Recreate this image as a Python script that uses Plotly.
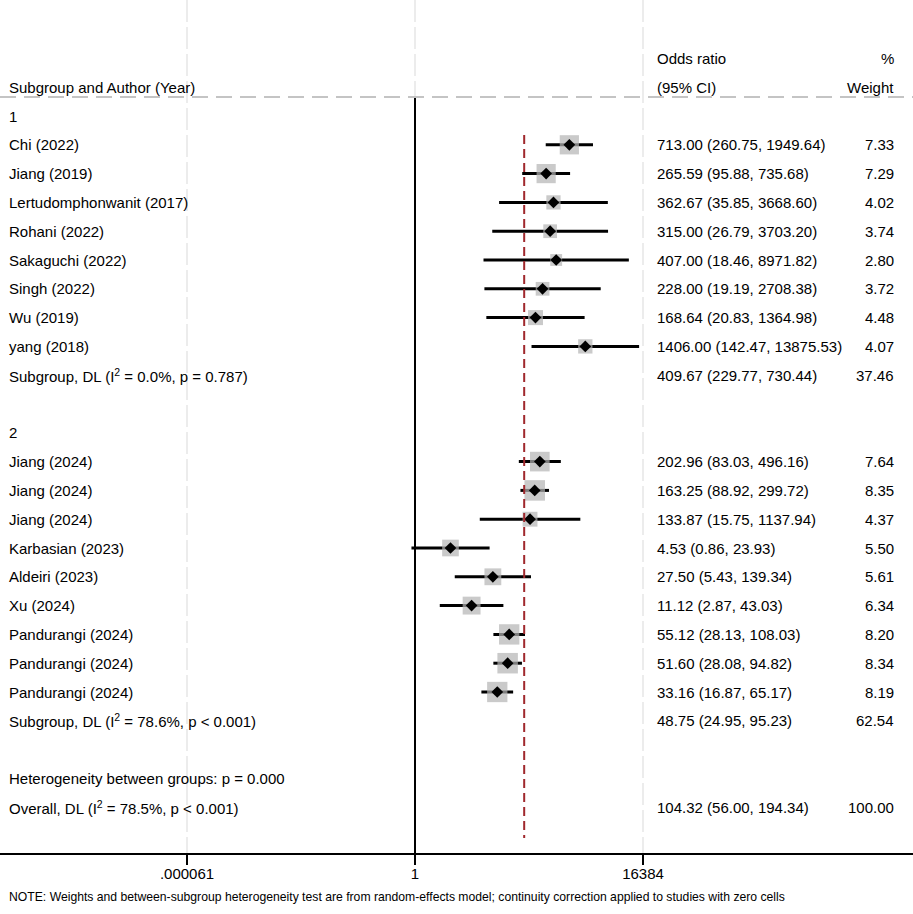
import math
import plotly.graph_objects as go

# ---------------- data ----------------
labels = [
    "1",
    "Chi (2022)", "Jiang (2019)", "Lertudomphonwanit (2017)", "Rohani (2022)",
    "Sakaguchi (2022)", "Singh (2022)", "Wu (2019)", "yang (2018)",
    "Subgroup, DL (I<sup>2</sup> = 0.0%, p = 0.787)",
    "",
    "2",
    "Jiang (2024)", "Jiang (2024)", "Jiang (2024)", "Karbasian (2023)",
    "Aldeiri (2023)", "Xu (2024)", "Pandurangi (2024)", "Pandurangi (2024)",
    "Pandurangi (2024)",
    "Subgroup, DL (I<sup>2</sup> = 78.6%, p < 0.001)",
    "",
    "Heterogeneity between groups: p = 0.000",
    "Overall, DL (I<sup>2</sup> = 78.5%, p < 0.001)",
]
# row kinds: h = heading, s = study, g = subgroup summary, b = blank, t = text only, o = overall
kinds = ["h", "s", "s", "s", "s", "s", "s", "s", "s", "g", "b",
         "h", "s", "s", "s", "s", "s", "s", "s", "s", "s", "g", "b", "t", "o"]
odds = [None, 713.00, 265.59, 362.67, 315.00, 407.00, 228.00, 168.64, 1406.00, 409.67, None,
        None, 202.96, 163.25, 133.87, 4.53, 27.50, 11.12, 55.12, 51.60, 33.16, 48.75, None, None, 104.32]
ci_low = [None, 260.75, 95.88, 35.85, 26.79, 18.46, 19.19, 20.83, 142.47, 229.77, None,
          None, 83.03, 88.92, 15.75, 0.86, 5.43, 2.87, 28.13, 28.08, 16.87, 24.95, None, None, 56.00]
ci_high = [None, 1949.64, 735.68, 3668.60, 3703.20, 8971.82, 2708.38, 1364.98, 13875.53, 730.44, None,
           None, 496.16, 299.72, 1137.94, 23.93, 139.34, 43.03, 108.03, 94.82, 65.17, 95.23, None, None, 194.34]
weights = [None, 7.33, 7.29, 4.02, 3.74, 2.80, 3.72, 4.48, 4.07, 37.46, None,
           None, 7.64, 8.35, 4.37, 5.50, 5.61, 6.34, 8.20, 8.34, 8.19, 62.54, None, None, 100.00]

tick_vals = [2 ** -14, 1, 2 ** 14]
tick_text = [".000061", "1", "16384"]
overall_or = 104.32

col_header1 = ["Odds ratio", "%"]
col_header2 = ["(95% CI)", "Weight"]
left_header = "Subgroup and Author (Year)"
note = ("NOTE: Weights and between-subgroup heterogeneity test are from random-effects model; "
        "continuity correction applied to studies with zero cells")

# ---------------- layout geometry ----------------
W, H = 913, 914
FONT = "Liberation Sans, Arial, sans-serif"
FS = 15
px_per_log2 = 228 / 14.0
x_one_px = 415
lo_log2 = (0 - x_one_px) / px_per_log2
hi_log2 = (W - x_one_px) / px_per_log2
x_range = [lo_log2 * math.log10(2), hi_log2 * math.log10(2)]

row0_px, row_h = 116, 28.8
axis_px = 853
y_top = (0 - row0_px) / row_h
y_bot = (axis_px - row0_px) / row_h

def px2row(p):
    return (p - row0_px) / row_h

fig = go.Figure()

# CI lines for studies
ci_x, ci_y = [], []
for i, k in enumerate(kinds):
    if k == "s":
        ci_x += [ci_low[i], ci_high[i], None]
        ci_y += [i, i, None]
fig.add_trace(go.Scatter(x=ci_x, y=ci_y, mode="lines",
                         line=dict(color="black", width=3), hoverinfo="skip",
                         showlegend=False))

# weight squares
sx, sy, ss = [], [], []
for i, k in enumerate(kinds):
    if k == "s":
        sx.append(odds[i]); sy.append(i); ss.append(7.1 * math.sqrt(weights[i]))
fig.add_trace(go.Scatter(x=sx, y=sy, mode="markers",
                         marker=dict(symbol="square", size=ss, color="#b4b4b4",
                                     line=dict(width=0)),
                         hoverinfo="skip", showlegend=False))
# point estimate diamonds
fig.add_trace(go.Scatter(x=sx, y=sy, mode="markers",
                         marker=dict(symbol="diamond", size=9, color="black",
                                     line=dict(width=0)),
                         hoverinfo="skip", showlegend=False))

# reference line at 1
fig.add_shape(type="line", xref="x", yref="y", x0=1, x1=1,
              y0=px2row(97), y1=y_bot, line=dict(color="black", width=2))
# overall effect line
fig.add_shape(type="line", xref="x", yref="y", x0=overall_or, x1=overall_or,
              y0=px2row(135), y1=px2row(838),
              line=dict(color="#a0282d", width=2, dash="9px,5px"))
# header separator
fig.add_shape(type="line", xref="paper", yref="y", x0=0, x1=1,
              y0=px2row(97), y1=px2row(97),
              line=dict(color="#c4c4c4", width=2, dash="16px,8px"))

# text columns
ann = []
def txt(x_px, row, s, anchor="left", size=FS):
    ann.append(dict(x=x_px / W, xref="paper", y=row, yref="y", text=s,
                    showarrow=False, xanchor=anchor, yanchor="middle",
                    font=dict(family=FONT, size=size, color="black")))

ci_col_px = 655
wt_col_px = 896
txt(7, -1, left_header)
txt(ci_col_px, -2, col_header1[0])
txt(wt_col_px, -2, col_header1[1], "right")
txt(ci_col_px, -1, col_header2[0])
txt(wt_col_px, -1, col_header2[1], "right")
for i, k in enumerate(kinds):
    if labels[i]:
        txt(7, i, labels[i])
    if odds[i] is not None:
        txt(ci_col_px, i, f"{odds[i]:.2f} ({ci_low[i]:.2f}, {ci_high[i]:.2f})")
        txt(wt_col_px, i, f"{weights[i]:.2f}", "right")

ann.append(dict(x=7 / W, xref="paper", y=-(897 - axis_px) / axis_px, yref="paper",
                text=note, showarrow=False, xanchor="left", yanchor="middle",
                font=dict(family=FONT, size=12.2, color="black")))

fig.update_layout(
    width=W, height=H,
    margin=dict(l=0, r=0, t=0, b=H - axis_px),
    paper_bgcolor="white", plot_bgcolor="white",
    annotations=ann,
    showlegend=False,
    xaxis=dict(type="log", range=x_range, domain=[0, 1],
               tickvals=tick_vals, ticktext=tick_text,
               showline=True, linecolor="black", linewidth=2,
               ticks="outside", ticklen=10, tickwidth=2, tickcolor="black",
               ticklabelstandoff=-4,
               tickfont=dict(family=FONT, size=FS, color="black"),
               showgrid=True, gridcolor="#ececec", gridwidth=2, griddash="22px,5px",
               zeroline=False, fixedrange=True),
    yaxis=dict(range=[y_bot, y_top], visible=False, showgrid=False,
               zeroline=False, fixedrange=True),
)

fig.write_html("out.html", config={"displayModeBar": False},
               post_script="document.body.style.margin='0';document.body.style.padding='0';")
